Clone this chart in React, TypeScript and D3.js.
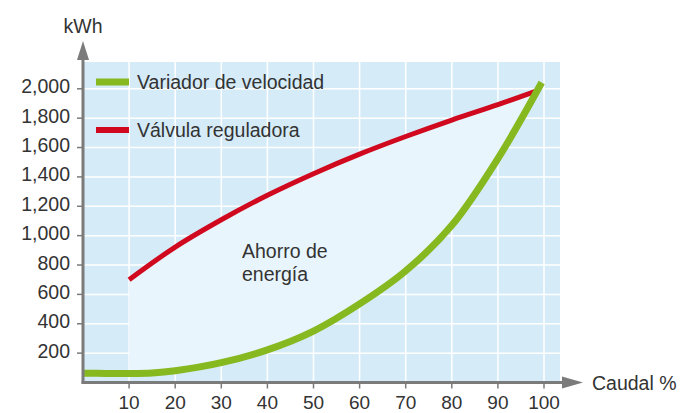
import React from "react";
import * as d3 from "d3";

// caudal (%) ticks and kWh ticks
const flowTicks = [10, 20, 30, 40, 50, 60, 70, 80, 90, 100];
const energyTicks = [200, 400, 600, 800, 1000, 1200, 1400, 1600, 1800, 2000];

// Variador de velocidad
const variadorFlow = [0, 5, 10, 15, 20, 30, 40, 50, 60, 70, 80, 90, 99.5];
const variadorKwh = [63, 62, 61, 65, 80, 135, 222, 350, 535, 760, 1070, 1525, 2043];

// Válvula reguladora
const valvulaFlow = [10, 20, 30, 40, 50, 60, 70, 80, 90, 98.3];
const valvulaKwh = [700, 922, 1108, 1275, 1422, 1555, 1675, 1787, 1892, 1984];

const legendItems = [
  { label: "Variador de velocidad", color: "#86b81f", width: 7 },
  { label: "Válvula reguladora", color: "#d0091f", width: 6 },
];

const W = 683;
const H = 413;
const FONT = "'Liberation Sans', Arial, sans-serif";
const TEXT = "#333333";
const AXIS = "#7b7b7b";

export default function App() {
  const x = d3.scaleLinear().domain([0, 100]).range([83, 544]);
  const y = d3.scaleLinear().domain([0, 2000]).range([382.5, 88.8]);

  const plotLeft = x(0) + 1;
  const plotRight = 560;
  const plotTop = 62;
  const plotBottom = y(0);

  const variador = variadorFlow.map((f, i) => [f, variadorKwh[i]] as [number, number]);
  const valvula = valvulaFlow.map((f, i) => [f, valvulaKwh[i]] as [number, number]);

  const curve = d3.curveCatmullRom.alpha(0.5);

  const line = d3
    .line<[number, number]>()
    .x((d) => x(d[0]))
    .y((d) => y(d[1]))
    .curve(curve);

  // region above the green curve, used to clip the savings area
  const aboveGreen = d3
    .area<[number, number]>()
    .x((d) => x(d[0]))
    .y0((d) => y(d[1]))
    .y1(plotTop - 20)
    .curve(curve);

  const underRed = d3
    .area<[number, number]>()
    .x((d) => x(d[0]))
    .y0(plotBottom)
    .y1((d) => y(d[1]))
    .curve(curve);

  return (
    <svg
      width={W}
      height={H}
      style={{ position: "absolute", left: 0, top: 0, background: "#fff" }}
      fontFamily={FONT}
    >
      <defs>
        <clipPath id="above-green">
          <path d={aboveGreen(variador) || ""} />
        </clipPath>
      </defs>

      <rect
        x={plotLeft}
        y={plotTop}
        width={plotRight - plotLeft}
        height={plotBottom - plotTop}
        fill="#d5ebf8"
      />

      {/* grid */}
      {flowTicks.map((t) => (
        <line
          key={"vx" + t}
          x1={x(t)}
          x2={x(t)}
          y1={plotTop}
          y2={plotBottom}
          stroke="#fff"
          strokeWidth={1.5}
        />
      ))}
      {energyTicks.map((t) => (
        <line
          key={"hy" + t}
          x1={plotLeft}
          x2={plotRight}
          y1={y(t)}
          y2={y(t)}
          stroke="#fff"
          strokeWidth={1.5}
        />
      ))}

      {/* ahorro de energía */}
      <path d={underRed(valvula) || ""} fill="#e9f5fc" clipPath="url(#above-green)" />
      <text x={242} y={258} fontSize={19.5} fill={TEXT}>
        Ahorro de
      </text>
      <text x={242} y={281} fontSize={19.5} fill={TEXT}>
        energía
      </text>

      <path d={line(valvula) || ""} fill="none" stroke="#d0091f" strokeWidth={5} />
      <path d={line(variador) || ""} fill="none" stroke="#86b81f" strokeWidth={7} />

      {/* axes */}
      <line x1={x(0)} x2={x(0)} y1={plotBottom + 1} y2={58} stroke={AXIS} strokeWidth={3} />
      <path d={`M${x(0) - 6},60 L${x(0)},41 L${x(0) + 6},60 Z`} fill={AXIS} />
      <line x1={x(0) - 1.5} x2={564} y1={plotBottom} y2={plotBottom} stroke={AXIS} strokeWidth={3} />
      <path
        d={`M562,${plotBottom - 6} L583,${plotBottom} L562,${plotBottom + 6} Z`}
        fill={AXIS}
      />

      {flowTicks.map((t) => (
        <g key={"xt" + t}>
          <line x1={x(t)} x2={x(t)} y1={plotBottom} y2={plotBottom + 6} stroke={AXIS} strokeWidth={1.5} />
          <text x={x(t)} y={409} textAnchor="middle" fontSize={19} fill={TEXT}>
            {t}
          </text>
        </g>
      ))}
      {energyTicks.map((t) => (
        <g key={"yt" + t}>
          <line x1={x(0) - 6} x2={x(0)} y1={y(t)} y2={y(t)} stroke={AXIS} strokeWidth={1.5} />
          <text x={70} y={y(t) + 4.5} textAnchor="end" fontSize={19.5} fill={TEXT}>
            {d3.format(",")(t)}
          </text>
        </g>
      ))}

      <text x={x(0)} y={33} textAnchor="middle" fontSize={19.5} fill={TEXT}>
        kWh
      </text>
      <text x={592} y={390} fontSize={19.5} fill={TEXT}>
        Caudal %
      </text>

      {/* legend */}
      {legendItems.map((d, i) => (
        <g key={d.label} transform={`translate(0,${82 + i * 48})`}>
          <line x1={96} x2={129} y1={0} y2={0} stroke={d.color} strokeWidth={d.width} />
          <text x={137} y={7} fontSize={19.5} fill={TEXT}>
            {d.label}
          </text>
        </g>
      ))}
    </svg>
  );
}
